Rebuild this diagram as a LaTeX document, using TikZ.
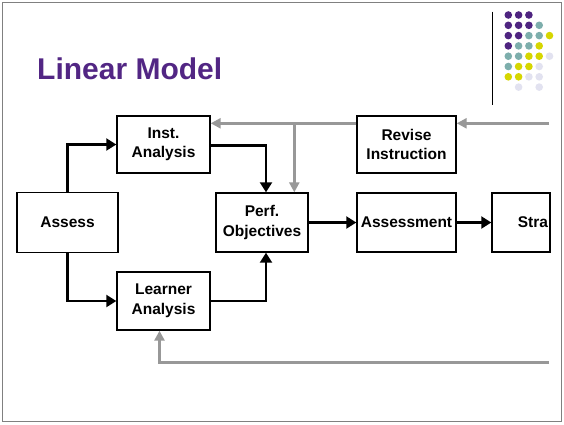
\documentclass[tikz,border=0pt]{standalone}
\usepackage{fontspec}
\setmainfont{Liberation Sans}
\usetikzlibrary{arrows.meta}
\definecolor{titlepurple}{RGB}{82, 38, 132}
\definecolor{dotpurple}{RGB}{78, 36, 128}
\definecolor{dotteal}{RGB}{125, 174, 172}
\definecolor{dotyellow}{RGB}{214, 214, 0}
\definecolor{dotlilac}{RGB}{226, 226, 240}
\definecolor{loopgray}{RGB}{152, 152, 152}

\tikzset{
  stepbox/.style={draw, line width=1.4pt, fill=white, align=center, inner sep=0pt,
                  font=\bfseries\fontsize{15.5}{19.5}\selectfont},
  flow/.style={line width=2.1pt, -{Triangle[length=10pt,width=12pt]}},
  feedback/.style={color=loopgray, line width=3pt, -{Triangle[length=10pt,width=10pt]}},
}

\begin{document}
\begin{tikzpicture}[x=1pt, y=-1pt]
            % Slide frame
            \useasboundingbox[fill=white] (0,0) rectangle (564,424);
            \draw[color=gray, line width=1pt] (2.5,2.5) rectangle (561.5,421.5);
            % Title
            \node[anchor=base west, inner sep=0pt, color=titlepurple,
                  font=\bfseries\fontsize{30}{36}\selectfont] (title) at (37,79.5) {Linear Model};
            % Corner decoration
            \draw[line width=1pt] (492.3,11.7) -- (492.3,105);
            \foreach \c/\r/\col in {0/0/dotpurple, 1/0/dotpurple, 2/0/dotpurple,
                                    0/1/dotpurple, 1/1/dotpurple, 2/1/dotpurple, 3/1/dotteal,
                                    0/2/dotpurple, 1/2/dotpurple, 2/2/dotteal, 3/2/dotteal, 4/2/dotyellow,
                                    0/3/dotpurple, 1/3/dotteal, 2/3/dotteal, 3/3/dotyellow,
                                    0/4/dotteal, 1/4/dotteal, 2/4/dotyellow, 3/4/dotyellow, 4/4/dotlilac,
                                    0/5/dotteal, 1/5/dotyellow, 2/5/dotyellow, 3/5/dotlilac,
                                    0/6/dotyellow, 1/6/dotyellow, 2/6/dotlilac, 3/6/dotlilac,
                                    1/7/dotlilac, 3/7/dotlilac}
                \fill[color=\col] (508.3+10.3*\c, 15+10.3*\r) circle (3.8);
            % Steps
            \node[stepbox, minimum width=101pt, minimum height=60pt] (assess)  at (67.5,222.5) {Assess};
            \node[stepbox, minimum width=93pt,  minimum height=57pt] (inst)    at (163.5,144.5) {Inst.\\Analysis};
            \node[stepbox, minimum width=93pt,  minimum height=58pt] (learner) at (163.5,301) {Learner\\Analysis};
            \node[stepbox, minimum width=92pt,  minimum height=59pt] (perf)    at (262,222.5) {Perf.\\Objectives};
            \node[stepbox, minimum width=99pt,  minimum height=57pt] (revise)  at (406.5,144.5) {Revise\\Instruction};
            \node[stepbox, minimum width=99pt,  minimum height=59pt] (assmt)   at (406.5,222.5) {Assessment};
            \node[stepbox, minimum width=58pt,  minimum height=59pt, text width=54pt, align=right]
                                                                     (stra)    at (521,222.5) {Stra};
            % Forward flow
            \draw[flow] (assess.north) |- (inst.west);
            \draw[flow] (assess.south) |- (learner.west);
            \draw[flow] ([yshift=-1pt]inst.east) -| ([xshift=4pt]perf.north);
            \draw[flow] (learner.east) -| ([xshift=4pt]perf.south);
            \draw[flow] (perf.east) -- (assmt.west);
            \draw[flow] (assmt.east) -- (stra.west);
            % Feedback loops
            \coordinate (topin) at (549,123.3);
            \coordinate (split) at (294.3,123.3);
            \coordinate (lowin) at (549,362);
            \draw[feedback] (topin) -- (topin -| revise.east);
            \draw[feedback] (revise.west |- topin) -- (inst.east |- topin);
            \draw[feedback] (split) -- (split |- perf.north);
            \draw[feedback] (lowin) -| ([xshift=-4pt]learner.south);
\end{tikzpicture}
\end{document}
